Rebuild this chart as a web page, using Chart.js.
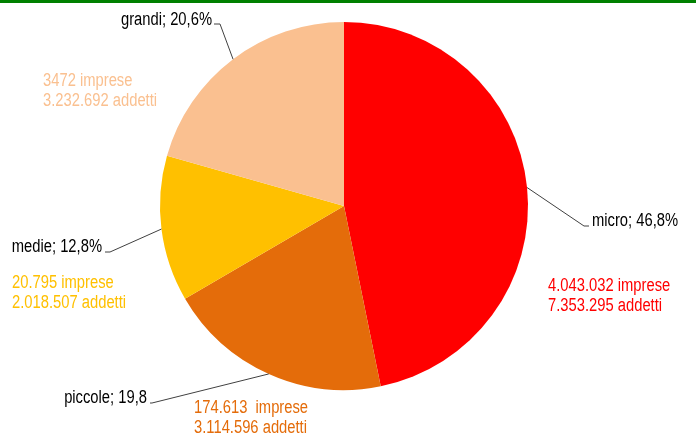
<!DOCTYPE html>
<html>
<head>
<meta charset="utf-8">
<script src="https://cdn.jsdelivr.net/npm/chart.js@4/dist/chart.umd.min.js"></script>
<style>
  html, body { margin: 0; padding: 0; background: #ffffff; }
  #wrap { position: relative; width: 696px; height: 441px; }
  #topline { position: absolute; left: 0; top: 0; width: 696px; height: 3px; background: #008000; }
  canvas { position: absolute; left: 0; top: 0; }
</style>
</head>
<body>
<div id="wrap">
  <canvas id="c" width="696" height="441"></canvas>
  <div id="topline"></div>
</div>
<script>
// ---- data ----
const categories = ['micro', 'piccole', 'medie', 'grandi'];
const shares = [46.8, 19.8, 12.8, 20.6];
const shareLabels = ['46,8%', '19,8', '12,8%', '20,6%'];
const impreseLabels = ['4.043.032', '174.613 ', '20.795', '3472'];
const addettiLabels = ['7.353.295', '3.114.596', '2.018.507', '3.232.692'];

// ---- styling / layout ----
const sliceColors = ['#FF0000', '#E46C0A', '#FFC000', '#FAC090'];
const leaderColor = '#404040';
const labelLayout = [
  { name: [592, 226, 'left'],  elbow: [584, 226], tip: [589, 226], info: [548, 291] },
  { name: [147, 403, 'right'], elbow: [152, 403], tip: [150, 403], info: [194, 413] },
  { name: [102, 252, 'right'], elbow: [110, 252], tip: [105, 252], info: [12, 288] },
  { name: [212, 25, 'right'],  elbow: [220, 24],  tip: [214, 24],  info: [43, 86] }
];
const infoLineGap = 20;
const fontSize = 18;

function narrowAvailable(ctx) {
  ctx.save();
  ctx.font = fontSize + 'px "Liberation Sans Narrow", monospace';
  const a = ctx.measureText('grandi; 20,6% imprese').width;
  ctx.font = fontSize + 'px monospace';
  const b = ctx.measureText('grandi; 20,6% imprese').width;
  ctx.restore();
  return Math.abs(a - b) > 0.5;
}

function drawText(ctx, text, x, y, align, color, narrow) {
  ctx.save();
  ctx.fillStyle = color;
  ctx.textBaseline = 'alphabetic';
  if (narrow) {
    ctx.font = fontSize + 'px "Liberation Sans Narrow"';
    ctx.textAlign = align;
    ctx.fillText(text, x, y);
  } else {
    ctx.font = fontSize + 'px "Liberation Sans", Arial, sans-serif';
    ctx.translate(x, y);
    ctx.scale(0.82, 1);
    ctx.textAlign = align;
    ctx.fillText(text, 0, 0);
  }
  ctx.restore();
}

const labelPlugin = {
  id: 'labelPlugin',
  afterDraw(chart) {
    const ctx = chart.ctx;
    const narrow = narrowAvailable(ctx);
    const meta = chart.getDatasetMeta(0);
    meta.data.forEach((arc, i) => {
      const p = arc.getProps(['x', 'y', 'startAngle', 'endAngle', 'outerRadius'], true);
      const mid = (p.startAngle + p.endAngle) / 2;
      const ax = p.x + Math.cos(mid) * p.outerRadius;
      const ay = p.y + Math.sin(mid) * p.outerRadius;
      const L = labelLayout[i];
      ctx.save();
      ctx.strokeStyle = leaderColor;
      ctx.lineWidth = 1;
      ctx.beginPath();
      ctx.moveTo(ax, ay);
      ctx.lineTo(L.elbow[0], L.elbow[1]);
      ctx.lineTo(L.tip[0], L.tip[1]);
      ctx.stroke();
      ctx.restore();
      drawText(ctx, categories[i] + '; ' + shareLabels[i], L.name[0], L.name[1], L.name[2], '#000000', narrow);
      drawText(ctx, impreseLabels[i] + ' imprese', L.info[0], L.info[1], 'left', sliceColors[i], narrow);
      drawText(ctx, addettiLabels[i] + ' addetti', L.info[0], L.info[1] + infoLineGap, 'left', sliceColors[i], narrow);
    });
  }
};

new Chart(document.getElementById('c'), {
  type: 'pie',
  data: {
    labels: categories,
    datasets: [{
      data: shares,
      backgroundColor: sliceColors,
      borderWidth: 0
    }]
  },
  options: {
    responsive: false,
    animation: false,
    layout: { padding: { top: 22, bottom: 51, left: 0, right: 8 } },
    plugins: {
      legend: { display: false },
      tooltip: { enabled: false }
    }
  },
  plugins: [labelPlugin]
});
</script>
</body>
</html>
